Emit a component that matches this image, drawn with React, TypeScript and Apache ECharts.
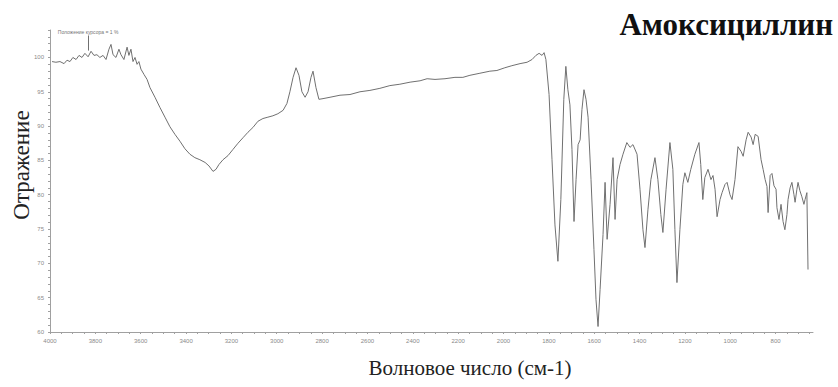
import React, { useEffect, useRef } from "react";
import * as echarts from "echarts";

// IR spectrum of amoxicillin: wavenumber (cm-1) vs. reflectance
const wavenumbers: number[] = [
  3991, 3974, 3956, 3938, 3925, 3912, 3899, 3885, 3872, 3859, 3846, 3832, 3819, 3806, 3793,
  3780, 3766, 3753, 3740, 3731, 3722, 3709, 3696, 3687, 3674, 3660, 3652, 3643, 3634, 3625,
  3616, 3608, 3599, 3585, 3572, 3559, 3537, 3515, 3493, 3471, 3449, 3427, 3405, 3383, 3361,
  3339, 3316, 3299, 3281, 3268, 3255, 3237, 3215, 3193, 3171, 3149, 3127, 3105, 3083, 3061,
  3039, 3017, 2995, 2972, 2955, 2942, 2928, 2915, 2902, 2889, 2875, 2862, 2849, 2840, 2827,
  2814, 2796, 2765, 2721, 2677, 2633, 2589, 2545, 2501, 2457, 2412, 2368, 2337, 2302, 2258,
  2214, 2179, 2148, 2104, 2060, 2029, 1994, 1963, 1927, 1896, 1874, 1857, 1843, 1830, 1821,
  1813, 1799, 1786, 1773, 1760, 1747, 1734, 1725, 1716, 1707, 1698, 1689, 1680, 1671, 1662,
  1654, 1645, 1636, 1627, 1614, 1601, 1592, 1583, 1574, 1561, 1552, 1543, 1530, 1517, 1508,
  1499, 1486, 1473, 1456, 1442, 1429, 1411, 1398, 1385, 1376, 1363, 1350, 1332, 1319, 1306,
  1297, 1283, 1266, 1253, 1244, 1235, 1222, 1209, 1200, 1187, 1174, 1156, 1138, 1130, 1121,
  1112, 1098, 1085, 1076, 1067, 1058, 1045, 1036, 1023, 1014, 1001, 992, 979, 966, 952,
  943, 930, 921, 908, 899, 890, 877, 864, 855, 846, 838, 833, 824, 816, 807,
  798, 794, 785, 776, 767, 759, 750, 745, 736, 728, 719, 714, 706, 701, 693,
  684, 675, 670, 662, 657,
];

const reflectance: number[] = [
  99.4, 99.3, 99.4, 99.1, 99.6, 99.4, 100.0, 99.7, 100.3, 100.0, 100.6, 100.1, 100.9, 100.3, 100.4,
  100.0, 100.3, 99.7, 101.2, 101.9, 100.4, 100.0, 101.2, 100.4, 99.7, 101.5, 100.3, 101.2, 99.4, 100.0,
  99.0, 99.4, 98.3, 97.5, 96.8, 95.6, 94.2, 92.7, 91.3, 89.9, 88.8, 87.8, 86.7, 85.9, 85.4,
  85.1, 84.7, 84.2, 83.4, 83.7, 84.4, 85.1, 85.7, 86.6, 87.5, 88.3, 89.1, 89.8, 90.7, 91.1,
  91.3, 91.5, 91.8, 92.3, 93.3, 95.0, 97.1, 98.5, 97.4, 95.0, 94.2, 95.0, 97.1, 98.0, 95.6,
  93.9, 94.0, 94.2, 94.5, 94.6, 95.0, 95.2, 95.5, 95.9, 96.1, 96.4, 96.6, 96.9, 96.8, 96.9,
  97.1, 97.1, 97.4, 97.7, 98.0, 98.1, 98.5, 98.8, 99.1, 99.3, 99.7, 100.3, 100.6, 100.3, 100.7,
  99.7, 94.6, 85.1, 75.6, 70.3, 79.3, 93.9, 98.7, 95.3, 93.1, 86.6, 76.1, 82.2, 87.3, 88.0,
  92.4, 95.3, 93.9, 91.3, 82.2, 72.0, 64.7, 60.8, 66.2, 74.2, 81.8, 73.5, 78.6, 85.4, 76.4,
  82.2, 84.4, 85.9, 87.6, 86.9, 87.3, 85.9, 80.8, 74.9, 72.3, 77.8, 82.2, 85.4, 82.2, 77.1,
  74.5, 80.8, 87.6, 83.7, 74.9, 67.2, 74.9, 81.5, 83.2, 81.8, 83.7, 85.9, 87.6, 84.4, 79.3,
  82.5, 83.7, 82.2, 82.8, 80.8, 76.8, 79.3, 80.3, 81.5, 81.8, 80.0, 79.3, 82.2, 87.0, 86.3,
  85.6, 88.0, 89.1, 88.4, 87.3, 88.8, 88.5, 85.1, 83.7, 82.2, 81.2, 77.4, 82.8, 83.1, 81.3,
  80.8, 78.1, 76.4, 78.6, 76.1, 74.9, 77.1, 79.3, 81.0, 81.8, 80.0, 78.9, 80.8, 81.8, 80.6,
  79.7, 78.6, 79.3, 80.3, 69.1,
];

// Axis ticks
const xTickLabels: number[] = [4000, 3800, 3600, 3400, 3200, 3000, 2800, 2600, 2400, 2200, 2000, 1800, 1600, 1400, 1200, 1000, 800];
const yTickLabels: number[] = [60, 65, 70, 75, 80, 85, 90, 95, 100];

const xMinorTicks: number[] = [];
for (let w = 4000; w >= 650; w -= 50) xMinorTicks.push(w);
const yMinorTicks: number[] = [];
for (let v = 60; v <= 104; v += 1) yMinorTicks.push(v);

// Cursor readout near the top-left of the trace
const cursorWavenumber = 3832;
const cursorFrom = 101.0;
const cursorTo = 103.2;
const cursorText = "Положение курсора = 1 %";

const titleText = "Амоксициллин";
const yName = "Отражение";
const xName = "Волновое число (см-1)";

export default function App() {
  const ref = useRef<HTMLDivElement>(null);

  useEffect(() => {
    if (!ref.current) return;
    const chart = echarts.init(ref.current, undefined, { renderer: "svg" });
    const points = wavenumbers.map((w, i) => [w, reflectance[i]]);
    const axisColor = "#a0a0a0";
    const labelStyle = { color: "#8a8a8a", fontSize: 6, fontFamily: "Liberation Sans" };

    chart.setOption({
      animation: false,
      backgroundColor: "#ffffff",
      grid: { left: 50, right: 25, top: 30, bottom: 55, containLabel: false },
      xAxis: {
        type: "value",
        inverse: true,
        min: 635,
        max: 4000,
        axisLine: { show: true, lineStyle: { color: axisColor, width: 1 } },
        axisTick: { show: true, customValues: xMinorTicks, length: 2, lineStyle: { color: axisColor } },
        axisLabel: {
          ...labelStyle,
          customValues: xTickLabels,
          margin: 6,
          formatter: (v: number) => String(v),
        },
        splitLine: { show: false },
      },
      yAxis: {
        type: "value",
        min: 60,
        max: 104,
        axisLine: { show: true, lineStyle: { color: axisColor, width: 1 } },
        axisTick: { show: true, customValues: yMinorTicks, length: 2, lineStyle: { color: axisColor } },
        axisLabel: { ...labelStyle, customValues: yTickLabels, margin: 6 },
        splitLine: { show: false },
      },
      series: [
        {
          type: "line",
          data: points,
          showSymbol: false,
          symbol: "none",
          lineStyle: { color: "#707070", width: 1 },
          markLine: {
            silent: true,
            symbol: ["none", "none"],
            lineStyle: { color: "#707070", width: 1, type: "solid" },
            label: {
              show: true,
              position: "end",
              formatter: cursorText,
              fontSize: 5,
              color: "#777",
              fontFamily: "Liberation Sans",
              distance: 1,
            },
            data: [[
              { coord: [cursorWavenumber, cursorFrom] },
              { coord: [cursorWavenumber, cursorTo] },
            ]],
          },
        },
      ],
      graphic: [
        {
          type: "text",
          right: 5,
          top: 9,
          style: {
            text: titleText,
            font: "bold 31px 'Liberation Serif'",
            fill: "#111",
          },
        },
        {
          type: "text",
          x: 10,
          y: 165,
          rotation: Math.PI / 2,
          style: {
            text: yName,
            font: "23px 'Liberation Serif'",
            fill: "#222",
            align: "center",
            verticalAlign: "top",
          },
        },
        {
          type: "text",
          x: 470,
          y: 368,
          style: {
            text: xName,
            font: "21px 'Liberation Serif'",
            fill: "#222",
            align: "center",
            verticalAlign: "middle",
          },
        },
      ],
    });

    return () => chart.dispose();
  }, []);

  return (
    <div
      ref={ref}
      style={{ position: "fixed", left: 0, top: 0, width: 838, height: 387 }}
    />
  );
}
